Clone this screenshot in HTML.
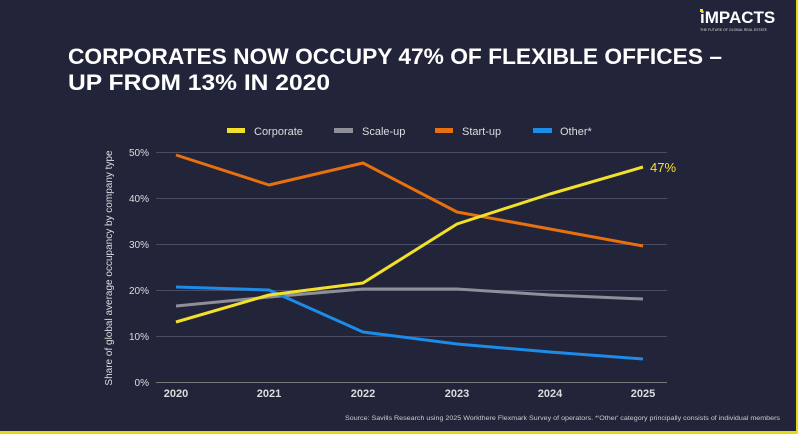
<!DOCTYPE html>
<html><head><meta charset="utf-8"><style>
body{margin:0;background:#22243a;}
svg{display:block}
text{font-family:"Liberation Sans",sans-serif}
</style></head><body>
<svg width="798" height="434" viewBox="0 0 798 434" xmlns="http://www.w3.org/2000/svg">
<rect width="798" height="434" fill="#22243a"/>
<rect x="796" y="0" width="2" height="434" fill="#e8d81a"/>
<rect x="0" y="431" width="798" height="3" fill="#e8d81a"/>
<text x="700" y="23" font-size="17" font-weight="bold" fill="#fff">iMPACTS</text>
<rect x="700" y="9" width="3" height="3" fill="#f2e12a"/>
<text x="700" y="31" font-size="3.5" fill="#ddd">THE FUTURE OF GLOBAL REAL ESTATE</text>
<text x="68" y="64" font-size="22" font-weight="bold" fill="#fff" textLength="654" lengthAdjust="spacingAndGlyphs">CORPORATES NOW OCCUPY 47% OF FLEXIBLE OFFICES –</text>
<text x="68" y="90" font-size="22" font-weight="bold" fill="#fff" textLength="262" lengthAdjust="spacingAndGlyphs">UP FROM 13% IN 2020</text>
<g font-size="11" fill="#ddd">
<rect x="227" y="128" width="18" height="5" fill="#f2e12a"/><text x="254" y="135">Corporate</text>
<rect x="334" y="128" width="19" height="5" fill="#8e8f99"/><text x="362" y="135">Scale-up</text>
<rect x="435" y="128" width="18" height="5" fill="#e8700e"/><text x="462" y="135">Start-up</text>
<rect x="533" y="128" width="19" height="5" fill="#1d8be8"/><text x="560" y="135">Other*</text>
</g>
<g stroke="#4a4c63" stroke-width="1">
<line x1="156" x2="667" y1="152.5" y2="152.5"/><line x1="156" x2="667" y1="198.5" y2="198.5"/>
<line x1="156" x2="667" y1="244.5" y2="244.5"/><line x1="156" x2="667" y1="290.5" y2="290.5"/>
<line x1="156" x2="667" y1="336.5" y2="336.5"/>
</g>
<line x1="156" x2="667" y1="382.5" y2="382.5" stroke="#777" stroke-width="1"/>
<g font-size="10" fill="#ddd" text-anchor="end">
<text x="149" y="156">50%</text><text x="149" y="202">40%</text><text x="149" y="248">30%</text>
<text x="149" y="294">20%</text><text x="149" y="340">10%</text><text x="149" y="386">0%</text>
</g>
<g font-size="11" font-weight="bold" fill="#ddd" text-anchor="middle">
<text x="176" y="397">2020</text><text x="269" y="397">2021</text><text x="363" y="397">2022</text>
<text x="457" y="397">2023</text><text x="550" y="397">2024</text><text x="643" y="397">2025</text>
</g>
<text transform="translate(112,268) rotate(-90)" font-size="10" fill="#ddd" text-anchor="middle">Share of global average occupancy by company type</text>
<g fill="none" stroke-width="3" stroke-linejoin="round">
<polyline stroke="#8e8f99" points="176,306 269,297 363,289 457,289 550,295 643,299"/>
<polyline stroke="#e8700e" points="176,155 269,185 363,163 457,212 550,229 643,246"/>
<polyline stroke="#1d8be8" points="176,287 269,290 363,332 457,344 550,352 643,359"/>
<polyline stroke="#f2e12a" points="176,322 269,295 363,283 457,224 550,194 643,167"/>
</g>
<text x="650" y="172" font-size="13" fill="#f2e12a">47%</text>
<text x="345" y="420" font-size="6.3" fill="#ccc" textLength="435" lengthAdjust="spacingAndGlyphs">Source: Savills Research using 2025 Workthere Flexmark Survey of operators. *'Other' category principally consists of individual members</text>
</svg>
</body></html>
